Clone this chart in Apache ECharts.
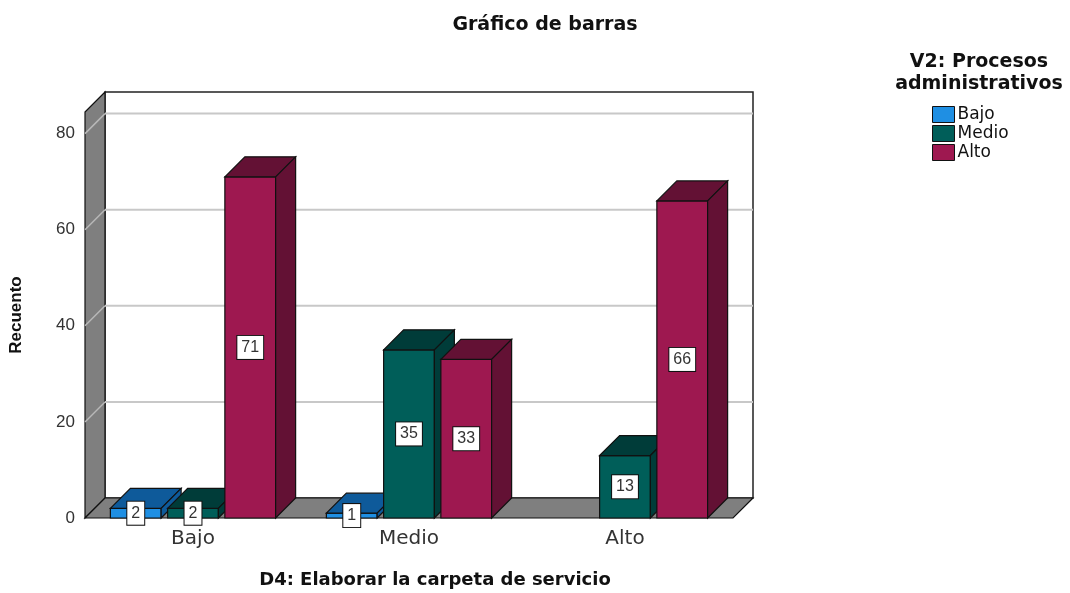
<!DOCTYPE html>
<html>
<head>
<meta charset="utf-8">
<script src="https://cdn.jsdelivr.net/npm/echarts@6/dist/echarts.min.js"></script>
<style>
  html, body { margin: 0; padding: 0; background: #fff; }
  #chart { width: 1070px; height: 593px; }
</style>
</head>
<body>
<div id="chart"></div>
<script>
// datos
const categories = ['Bajo', 'Medio', 'Alto']
const seriesNames = ['Bajo', 'Medio', 'Alto']
const bajoValues = [2, 1, 0]
const medioValues = [2, 35, 13]
const altoValues = [71, 33, 66]
const yTicks = [0, 20, 40, 60, 80]

const frontColors = ['#1f8fe3', '#005e59', '#9e1850']
const darkColors = ['#0e5a9a', '#003c39', '#631134']
const DEPTH = 20

const chart = echarts.init(document.getElementById('chart'))

// paredes, piso y lineas de cuadricula en 3D
const renderFrame = (params, api) => {
  const cs = params.coordSys
  const gx = cs.x, gy = cs.y, gw = cs.width, gh = cs.height
  const bottom = gy + gh
  const children = []
  children.push({
    type: 'rect',
    shape: { x: gx + DEPTH, y: gy - DEPTH, width: gw, height: gh },
    style: { fill: '#fff', stroke: '#222', lineWidth: 1.5 }
  })
  children.push({
    type: 'polygon',
    shape: { points: [[gx, gy], [gx + DEPTH, gy - DEPTH], [gx + DEPTH, bottom - DEPTH], [gx, bottom]] },
    style: { fill: '#7f7f7f', stroke: '#111', lineWidth: 1.2 }
  })
  yTicks.forEach(v => {
    if (v === 0) return
    const y = api.coord([0, v])[1]
    children.push({
      type: 'line',
      shape: { x1: gx + DEPTH, y1: y - DEPTH, x2: gx + gw + DEPTH, y2: y - DEPTH },
      style: { stroke: '#c8c8c8', lineWidth: 2 }
    })
    children.push({
      type: 'line',
      shape: { x1: gx, y1: y, x2: gx + DEPTH, y2: y - DEPTH },
      style: { stroke: '#b8b8b8', lineWidth: 1.5 }
    })
  })
  children.push({
    type: 'polygon',
    shape: { points: [[gx, bottom], [gx + DEPTH, bottom - DEPTH], [gx + gw + DEPTH, bottom - DEPTH], [gx + gw, bottom]] },
    style: { fill: '#7f7f7f', stroke: '#111', lineWidth: 1.2 }
  })
  return { type: 'group', children: children }
}

const renderBar = (idx) => (params, api) => {
  const cat = api.value(0)
  const val = api.value(1)
  if (!val) return null
  const catW = api.size([1, 0])[0]
  const barW = catW * 0.235
  const step = catW * 0.265
  const basePt = api.coord([cat, 0])
  const center = basePt[0] + (idx - 1) * step
  const base = basePt[1]
  const top = api.coord([cat, val])[1]
  const x0 = center - barW / 2
  const x1 = center + barW / 2
  const edge = { stroke: '#111', lineWidth: 1.2 }
  return {
    type: 'group',
    children: [
      {
        type: 'rect',
        shape: { x: x0, y: top, width: barW, height: base - top },
        style: Object.assign({ fill: frontColors[idx] }, edge)
      },
      {
        type: 'polygon',
        shape: { points: [[x0, top], [x0 + DEPTH, top - DEPTH], [x1 + DEPTH, top - DEPTH], [x1, top]] },
        style: Object.assign({ fill: darkColors[idx] }, edge)
      },
      {
        type: 'polygon',
        shape: { points: [[x1, top], [x1 + DEPTH, top - DEPTH], [x1 + DEPTH, base - DEPTH], [x1, base]] },
        style: Object.assign({ fill: darkColors[idx] }, edge)
      },
      {
        type: 'text',
        z2: 10,
        style: {
          text: String(val),
          x: center,
          y: (top + base) / 2,
          align: 'center',
          verticalAlign: 'middle',
          fill: '#333',
          font: '16px "Liberation Sans", Arial, sans-serif',
          backgroundColor: '#fff',
          borderColor: '#111',
          borderWidth: 1,
          padding: [4, 4, 3, 4]
        }
      }
    ]
  }
}

const allValues = [bajoValues, medioValues, altoValues]

const barSeries = seriesNames.map((name, idx) => ({
  name: name,
  type: 'custom',
  z: 3,
  renderItem: renderBar(idx),
  itemStyle: { color: frontColors[idx], borderColor: '#111', borderWidth: 1 },
  data: categories.map((c, i) => [i, allValues[idx][i]])
}))

const option = {
  animation: false,
  color: frontColors,
  title: [
    {
      text: 'Gráfico de barras',
      left: 540,
      top: 11,
      textAlign: 'center',
      textStyle: { fontFamily: 'DejaVu Sans', fontWeight: 'bold', fontSize: 19, color: '#111' }
    },
    {
      text: 'D4: Elaborar la carpeta de servicio',
      left: 430,
      top: 566,
      textAlign: 'center',
      textStyle: { fontFamily: 'DejaVu Sans', fontWeight: 'bold', fontSize: 18, color: '#111' }
    },
    {
      text: 'V2: Procesos\nadministrativos',
      left: 974,
      top: 46,
      textAlign: 'center',
      textStyle: { fontFamily: 'DejaVu Sans', fontWeight: 'bold', fontSize: 19, lineHeight: 22, color: '#111' }
    }
  ],
  legend: {
    orient: 'vertical',
    left: 932,
    top: 106,
    padding: 0,
    itemWidth: 22,
    itemHeight: 16,
    itemGap: 2,
    icon: 'rect',
    itemStyle: { borderColor: '#111', borderWidth: 1 },
    textStyle: { fontFamily: 'DejaVu Sans', fontSize: 17, color: '#111', padding: [0, 0, 0, -2] },
    data: seriesNames
  },
  grid: {
    left: 83,
    right: 337,
    top: 112,
    bottom: 75
  },
  xAxis: {
    type: 'category',
    data: categories,
    axisLine: { show: false },
    axisTick: { show: false },
    axisLabel: { fontFamily: 'DejaVu Sans', fontSize: 20, color: '#333', margin: 11 }
  },
  yAxis: {
    type: 'value',
    min: 0,
    max: 84.5,
    interval: 20,
    name: 'Recuento',
    nameLocation: 'middle',
    nameRotate: 90,
    nameGap: 60,
    nameTextStyle: { fontFamily: 'Liberation Sans', fontWeight: 'bold', fontSize: 17, color: '#111' },
    axisLine: { show: false },
    axisTick: { show: false },
    splitLine: { show: false },
    axisLabel: {
      showMaxLabel: false,
      fontFamily: 'Liberation Sans',
      fontSize: 17,
      color: '#333',
      margin: 10,
      padding: [6, 0, 0, 0]
    }
  },
  series: [
    {
      type: 'custom',
      name: 'frame',
      z: 1,
      silent: true,
      renderItem: renderFrame,
      data: [[0, 0]]
    }
  ].concat(barSeries)
}

chart.setOption(option)
</script>
</body>
</html>
